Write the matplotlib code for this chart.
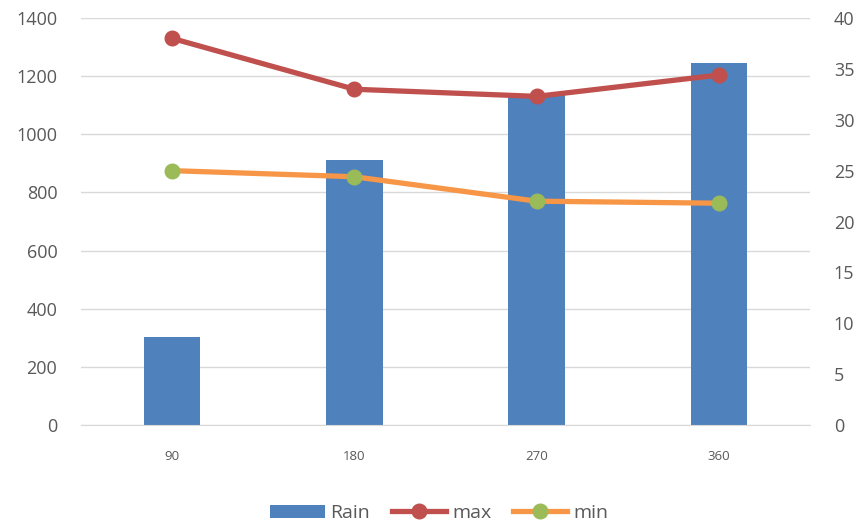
import matplotlib
matplotlib.use("Agg")
import matplotlib.pyplot as plt
from matplotlib.lines import Line2D
from matplotlib.patches import Patch

categories = ["90", "180", "270", "360"]
rain = [303, 912, 1135, 1245]
t_max = [38.0, 33.0, 32.3, 34.4]
t_min = [25.0, 24.4, 22.0, 21.8]

plt.rcParams["font.family"] = ["Open Sans", "DejaVu Sans"]
text_color = "#595959"
grid_color = "#d9d9d9"
bar_color = "#4f81bd"
max_color = "#c0504d"
min_color = "#f79646"
min_marker = "#9bbb59"

fig = plt.figure(figsize=(8.61, 5.27), dpi=100)
ax = fig.add_axes([0.094, 0.1935, 0.847, 0.7723])
x = list(range(len(categories)))

ax.bar(x, rain, width=0.31, color=bar_color, zorder=2)
ax.set_xlim(-0.5, len(categories) - 0.5)
ax.set_ylim(0, 1400)
ax.set_yticks(range(0, 1401, 200))
ax.set_xticks(x)
ax.set_xticklabels(categories)
ax.grid(axis="y", color=grid_color, linewidth=1, zorder=0)
for s in ["top", "left", "right"]:
    ax.spines[s].set_visible(False)
ax.spines["bottom"].set_color(grid_color)
ax.tick_params(axis="y", length=0, labelsize=13, colors=text_color, pad=17)
ax.tick_params(axis="x", length=0, labelsize=9.5, colors=text_color, pad=18)

ax2 = ax.twinx()
ax2.set_ylim(0, 40)
ax2.set_yticks(range(0, 41, 5))
for s in ["top", "left", "right", "bottom"]:
    ax2.spines[s].set_visible(False)
ax2.tick_params(axis="y", length=0, labelsize=13, colors=text_color, pad=17)
ax2.plot(x, t_max, color=max_color, linewidth=3.8, marker="o", markersize=10.5,
         markerfacecolor=max_color, markeredgecolor=max_color, zorder=3)
ax2.plot(x, t_min, color=min_color, linewidth=3.8, marker="o", markersize=10.5,
         markerfacecolor=min_marker, markeredgecolor=min_marker, zorder=3)

handles = [
    Patch(facecolor=bar_color, label="Rain"),
    Line2D([], [], color=max_color, linewidth=3.8, marker="o", markersize=10.5,
           markerfacecolor=max_color, markeredgecolor=max_color, label="max"),
    Line2D([], [], color=min_color, linewidth=3.8, marker="o", markersize=10.5,
           markerfacecolor=min_marker, markeredgecolor=min_marker, label="min"),
]
leg = fig.legend(handles=handles, loc="center", bbox_to_anchor=(0.51, 0.026),
                 ncol=3, frameon=False, fontsize=14, handlelength=2.8,
                 handletextpad=0.3, columnspacing=1.1)
for t in leg.get_texts():
    t.set_color(text_color)

fig.savefig("out.png", dpi=100)
